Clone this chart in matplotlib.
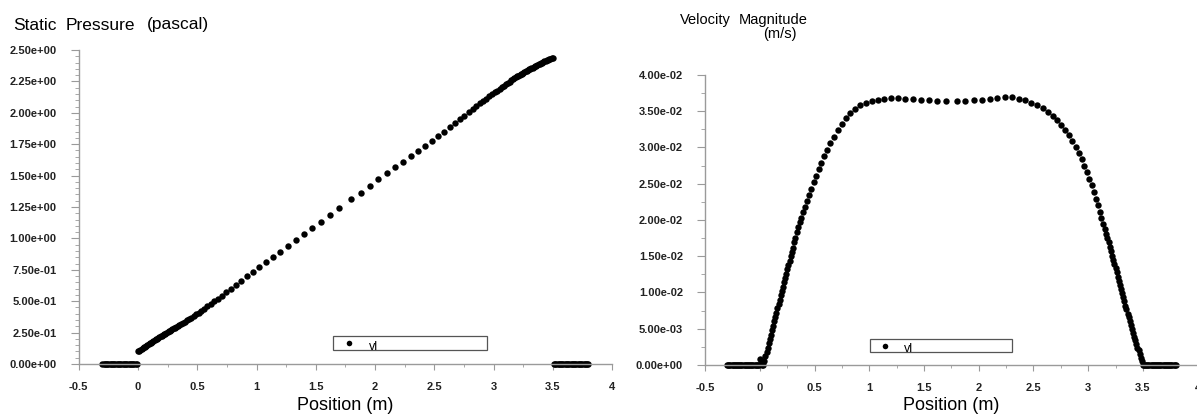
import matplotlib
matplotlib.use('Agg')
import matplotlib.pyplot as plt
from matplotlib.ticker import MultipleLocator, AutoMinorLocator, FuncFormatter
from matplotlib.patches import Rectangle

plt.rcParams['font.family'] = ['Liberation Sans', 'DejaVu Sans']

# node positions along the line (m)
inlet_pos = [-0.300, -0.290, -0.280, -0.270, -0.260, -0.250, -0.240, -0.230, -0.220, -0.210,
             -0.200, -0.190, -0.180, -0.170, -0.160, -0.150, -0.140, -0.130, -0.120, -0.110,
             -0.100, -0.090, -0.080, -0.070, -0.060, -0.050, -0.040, -0.030, -0.020, -0.010]
outlet_pos = [3.510, 3.520, 3.530, 3.540, 3.550, 3.560, 3.570, 3.580, 3.590, 3.600,
              3.610, 3.620, 3.630, 3.640, 3.650, 3.660, 3.670, 3.680, 3.690, 3.700,
              3.710, 3.720, 3.730, 3.740, 3.750, 3.760, 3.770, 3.780, 3.790, 3.800]
pipe_pos = [0.00, 0.01, 0.02, 0.03, 0.04, 0.05, 0.06, 0.07, 0.08, 0.09, 0.10,
            0.11, 0.12, 0.13, 0.14, 0.15, 0.16, 0.17, 0.18, 0.19, 0.20,
            0.21, 0.22, 0.23, 0.24, 0.25, 0.26, 0.27, 0.28, 0.29, 0.30,
            0.312, 0.324, 0.337, 0.350, 0.364, 0.379, 0.395, 0.412, 0.430, 0.449,
            0.469, 0.490, 0.512, 0.535, 0.560, 0.586, 0.614, 0.644, 0.676, 0.710,
            0.746, 0.785, 0.826, 0.870, 0.917, 0.967, 1.020, 1.076, 1.135, 1.197,
            1.262, 1.330, 1.400, 1.472, 1.546, 1.622, 1.700,
            1.800, 1.878, 1.954, 2.028, 2.100, 2.170, 2.238, 2.303, 2.365, 2.424,
            2.480, 2.533, 2.583, 2.630, 2.674, 2.715, 2.754, 2.790, 2.824, 2.856,
            2.886, 2.914, 2.940, 2.965, 2.988, 3.010, 3.031, 3.051, 3.070, 3.088,
            3.105, 3.121, 3.136, 3.150, 3.163, 3.176, 3.188,
            3.20, 3.21, 3.22, 3.23, 3.24, 3.25, 3.26, 3.27, 3.28, 3.29, 3.30,
            3.31, 3.32, 3.33, 3.34, 3.35, 3.36, 3.37, 3.38, 3.39, 3.40,
            3.41, 3.42, 3.43, 3.44, 3.45, 3.46, 3.47, 3.48, 3.49, 3.50]

# static pressure (pascal)
pressure = [0.100, 0.107, 0.113, 0.120, 0.126, 0.133, 0.139, 0.146, 0.152, 0.159, 0.165,
            0.171, 0.177, 0.183, 0.189, 0.195, 0.201, 0.207, 0.213, 0.219, 0.225,
            0.231, 0.237, 0.242, 0.248, 0.254, 0.260, 0.266, 0.271, 0.277, 0.283,
            0.290, 0.297, 0.304, 0.312, 0.320, 0.328, 0.337, 0.347, 0.358, 0.369,
            0.381, 0.394, 0.408, 0.424, 0.441, 0.458, 0.478, 0.499, 0.521, 0.545,
            0.571, 0.599, 0.630, 0.663, 0.698, 0.735, 0.774, 0.812, 0.852, 0.894,
            0.938, 0.984, 1.032, 1.081, 1.132, 1.185, 1.240,
            1.310, 1.365, 1.418, 1.469, 1.518, 1.566, 1.612, 1.656, 1.698, 1.738,
            1.776, 1.814, 1.850, 1.884, 1.917, 1.947, 1.977, 2.004, 2.030, 2.053,
            2.075, 2.095, 2.113, 2.131, 2.147, 2.162, 2.177, 2.191, 2.204, 2.217,
            2.228, 2.239, 2.249, 2.258, 2.266, 2.274, 2.282,
            2.290, 2.296, 2.301, 2.307, 2.312, 2.318, 2.323, 2.329, 2.334, 2.340, 2.345,
            2.350, 2.355, 2.360, 2.365, 2.370, 2.375, 2.380, 2.385, 2.390, 2.395,
            2.400, 2.404, 2.409, 2.413, 2.418, 2.422, 2.427, 2.431, 2.436, 2.440]

# velocity magnitude (m/s)
velocity = [0.0008, 0.0002, 0.0000, 0.0000, 0.0006, 0.0012, 0.0018, 0.0024, 0.0030, 0.0036, 0.0042,
            0.0048, 0.0054, 0.0060, 0.0066, 0.0072, 0.0078, 0.0084, 0.0090, 0.0096, 0.0102,
            0.0108, 0.0114, 0.0120, 0.0126, 0.0132, 0.0138, 0.0144, 0.0150, 0.0156, 0.0162,
            0.0169, 0.0175, 0.0183, 0.0190, 0.0197, 0.0203, 0.0211, 0.0218, 0.0226, 0.0235,
            0.0243, 0.0252, 0.0261, 0.0270, 0.0279, 0.0288, 0.0297, 0.0306, 0.0315, 0.0324,
            0.0332, 0.0340, 0.0347, 0.0353, 0.0358, 0.0362, 0.0364, 0.0366, 0.0367, 0.0368,
            0.0368, 0.0367, 0.0367, 0.0366, 0.0365, 0.0364, 0.0364,
            0.0364, 0.0364, 0.0365, 0.0366, 0.0367, 0.0368, 0.0369, 0.0369, 0.0367, 0.0365,
            0.0362, 0.0358, 0.0354, 0.0349, 0.0344, 0.0338, 0.0331, 0.0324, 0.0317, 0.0309,
            0.0301, 0.0292, 0.0284, 0.0275, 0.0266, 0.0257, 0.0248, 0.0238, 0.0229, 0.0220,
            0.0211, 0.0203, 0.0195, 0.0188, 0.0181, 0.0175, 0.0169,
            0.0163, 0.0157, 0.0151, 0.0145, 0.0139, 0.0134, 0.0128, 0.0122, 0.0116, 0.0110, 0.0105,
            0.0099, 0.0094, 0.0088, 0.0082, 0.0077, 0.0071, 0.0066, 0.0060, 0.0055, 0.0049,
            0.0044, 0.0039, 0.0034, 0.0029, 0.0024, 0.0020, 0.0015, 0.0010, 0.0005, 0.0000]

inlet_zero = [0.0] * len(inlet_pos)
outlet_zero = [0.0] * len(outlet_pos)

fig = plt.figure(figsize=(11.97, 4.19), dpi=100)
ax1 = fig.add_axes([0.0658, 0.1313, 0.4455, 0.7494])
ax2 = fig.add_axes([0.5892, 0.1289, 0.4113, 0.6921])


def style(ax, ymax, ystep, yminor, label_y):
    ax.set_xlim(-0.5, 4)
    ax.set_ylim(0, ymax)
    for s in ['top', 'right']:
        ax.spines[s].set_visible(False)
    for s in ['left', 'bottom']:
        ax.spines[s].set_color('#9a9a9a')
        ax.spines[s].set_linewidth(1.0)
    ax.xaxis.set_major_locator(MultipleLocator(0.5))
    ax.xaxis.set_minor_locator(AutoMinorLocator(2))
    ax.yaxis.set_major_locator(MultipleLocator(ystep))
    ax.yaxis.set_minor_locator(AutoMinorLocator(yminor))
    ax.xaxis.set_major_formatter(FuncFormatter(lambda v, p: '%g' % v))
    ax.yaxis.set_major_formatter(FuncFormatter(lambda v, p: '%.2e' % v))
    ax.tick_params(axis='y', which='major', length=6, color='#9a9a9a', pad=10)
    ax.tick_params(axis='y', which='minor', length=3, color='#9a9a9a')
    ax.tick_params(axis='x', which='major', length=4, color='#9a9a9a', pad=9)
    ax.tick_params(axis='x', which='minor', length=2, color='#9a9a9a')
    for lab in ax.get_xticklabels() + ax.get_yticklabels():
        lab.set_fontsize(8)
        lab.set_fontweight('bold')
        lab.set_color('#222222')
    ax.set_xlabel('Position (m)', fontsize=13, va='center')
    ax.xaxis.set_label_coords(0.5, label_y)


def legend_box(ax, x0, y0, w, h):
    ax.add_patch(Rectangle((x0, y0), w, h, transform=ax.transAxes, fill=False,
                           edgecolor='#555555', linewidth=0.9, clip_on=False))
    ax.plot([x0 + 0.03], [y0 + h / 2], 'o', color='black', ms=4, mew=0,
            transform=ax.transAxes, clip_on=False)
    ax.text(x0 + 0.068, y0, 'vl', transform=ax.transAxes, fontsize=9,
            va='baseline', ha='left')


mk = dict(marker='o', linestyle='none', color='black', ms=4.6, mew=0, clip_on=False)

# static pressure
ax1.plot(inlet_pos, inlet_zero, **mk)
ax1.plot(pipe_pos, pressure, **mk)
ax1.plot(outlet_pos, outlet_zero, **mk)
style(ax1, 2.5, 0.25, 5, -0.133)
legend_box(ax1, 0.477, 0.045, 0.288, 0.045)
fig.text(13 / 1197, 1 - 25 / 419, 'Static', fontsize=12.5, va='center')
fig.text(66 / 1197, 1 - 25 / 419, 'Pressure', fontsize=12.5, va='center')
fig.text(147 / 1197, 1 - 25 / 419, '(pascal)', fontsize=12.5, va='center')

# velocity magnitude
ax2.plot(inlet_pos, inlet_zero, **mk)
ax2.plot(pipe_pos, velocity, **mk)
ax2.plot(outlet_pos, outlet_zero, **mk)
style(ax2, 0.04, 0.005, 2, -0.141)
legend_box(ax2, 0.335, 0.045, 0.288, 0.043)
fig.text(680 / 1197, 1 - 20 / 419, 'Velocity', fontsize=10.5, va='center')
fig.text(739 / 1197, 1 - 20 / 419, 'Magnitude', fontsize=10.5, va='center')
fig.text(780 / 1197, 1 - 34 / 419, '(m/s)', fontsize=10.5, va='center', ha='center')

fig.savefig('out.png', dpi=100)
